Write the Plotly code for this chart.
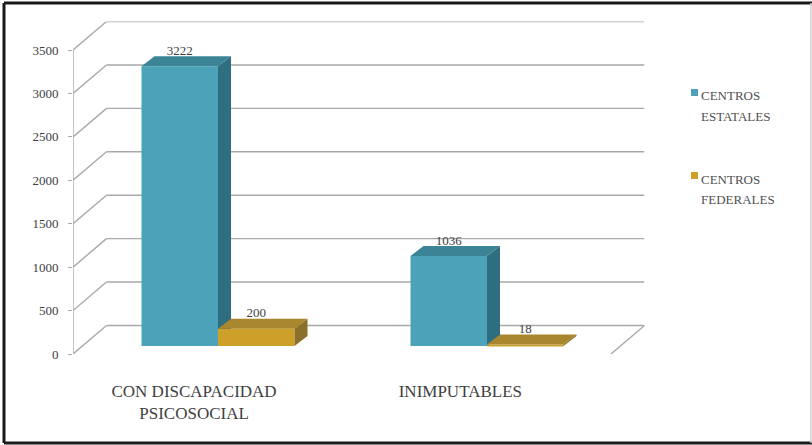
import plotly.graph_objects as go

# Data
categories = ["CON DISCAPACIDAD<br>PSICOSOCIAL", "INIMPUTABLES"]
centros_estatales = [3222, 1036]
centros_federales = [200, 18]
y_ticks = [0, 500, 1000, 1500, 2000, 2500, 3000, 3500]

W, H = 812, 445
X0, X1, Y0, Y1 = 73, 611, 354, 50          # plot front-plane box in px
UX = (X1 - X0) / 2.0                       # px per category
UY = (Y0 - Y1) / 3500.0                    # px per value unit
px_x = lambda p: p / UX
px_y = lambda p: p / UY

WALL_PX_X, WALL_PX_Y = 33.5, 28.5
WALL_X, WALL_Y = px_x(WALL_PX_X), px_y(WALL_PX_Y)    # floor depth
BAR_X, BAR_Y = px_x(13), px_y(10)          # bar depth
BASE = px_y(8)                             # bar front-face raise above the front floor edge
SHIFT = px_x(10.5)
BW = px_x(76.5)

TEAL = ("#4CA3B9", "#3A8496", "#2F6E7F")
GOLD = ("#CDA129", "#A8872E", "#8B7029")
GRID = "#A9A9A9"
TEXT = "#404040"
FONT = "Liberation Serif"


def faces(fig, xc, v, cols, ax):
    """Top and side faces of one 3D bar, derived from its value."""
    l, r = xc - BW / 2, xc + BW / 2
    t, b = BASE + v, BASE
    fig.add_trace(go.Scatter(x=[l, l + BAR_X, r + BAR_X, r, l], y=[t, t + BAR_Y, t + BAR_Y, t, t],
                             fill="toself", fillcolor=cols[1], mode="lines", line=dict(width=0),
                             hoverinfo="skip", showlegend=False, cliponaxis=False, **ax))
    fig.add_trace(go.Scatter(x=[r, r + BAR_X, r + BAR_X, r, r], y=[b, b + BAR_Y, t + BAR_Y, t, b],
                             fill="toself", fillcolor=cols[2], mode="lines", line=dict(width=0),
                             hoverinfo="skip", showlegend=False, cliponaxis=False, **ax))


fig = go.Figure()
ax1 = dict(xaxis="x", yaxis="y")
ax2 = dict(xaxis="x2", yaxis="y2")
idx = list(range(len(categories)))

xs_e = [i + SHIFT - BW / 2 for i in idx]
xs_f = [i + SHIFT + BW / 2 for i in idx]

fig.add_trace(go.Bar(x=xs_e, y=centros_estatales, base=BASE, width=BW, marker=dict(color=TEAL[0], line=dict(width=0)),
                     name="CENTROS ESTATALES", showlegend=False, cliponaxis=False, **ax1))
for x, v in zip(xs_e, centros_estatales):
    faces(fig, x, v, TEAL, ax1)

fig.add_trace(go.Bar(x=xs_f, y=centros_federales, base=BASE, width=BW, marker=dict(color=GOLD[0], line=dict(width=0)),
                     name="CENTROS FEDERALES", showlegend=False, cliponaxis=False, **ax2))
for x, v in zip(xs_f, centros_federales):
    faces(fig, x, v, GOLD, ax2)

# value labels
fig.add_trace(go.Scatter(x=xs_e + xs_f, y=[v + BASE + px_y(8) for v in centros_estatales + centros_federales],
                         text=[str(v) for v in centros_estatales + centros_federales],
                         mode="text", textposition="top center",
                         textfont=dict(family=FONT, size=13, color=TEXT),
                         hoverinfo="skip", showlegend=False, cliponaxis=False, **ax2))

# axis line and 3D gridlines, built from the ticks
shapes = []
line = dict(color=GRID, width=1.4)
xl, xr = idx[0] - 0.5, idx[-1] + 0.5
shapes.append(dict(type="line", xref="x", yref="y", x0=xl, x1=xl, y0=0, y1=y_ticks[-1], line=line, layer="below"))
for t in y_ticks:
    shapes.append(dict(type="line", xref="x", yref="y", x0=xl, y0=t, x1=xl + WALL_X, y1=t + WALL_Y, line=line, layer="below"))
    shapes.append(dict(type="line", xref="x", yref="y", x0=xl + WALL_X, y0=t + WALL_Y, x1=xr + WALL_X, y1=t + WALL_Y, line=line, layer="below"))
shapes.append(dict(type="line", xref="x", yref="y", x0=xr, y0=0, x1=xr + WALL_X, y1=WALL_Y, line=line, layer="below"))

# picture frame
def frame(x0, y0, x1, y1, color, w):
    return dict(type="line", xref="paper", yref="paper", x0=x0 / W, x1=x1 / W,
                y0=1 - y0 / H, y1=1 - y1 / H, line=dict(color=color, width=w))

shapes += [frame(4, 3, W, 3, "#1A1A1A", 3), frame(4, 3, 4, 443, "#1A1A1A", 3),
           frame(4, 443, W, 443, "#1A1A1A", 3), frame(811, 3, 811, 443, "#D0D0D0", 1.5)]

# legend keys and texts
annotations = []
legend = [(("CENTROS", "ESTATALES"), TEAL[0], 92), (("CENTROS", "FEDERALES"), GOLD[0], 175)]
for lines, col, yc in legend:
    shapes.append(dict(type="rect", xref="paper", yref="paper", x0=691 / W, x1=698 / W,
                       y0=1 - (yc + 4) / H, y1=1 - (yc - 3) / H, fillcolor=col, line=dict(width=0)))
    for k, txt in enumerate(lines):
        annotations.append(dict(xref="paper", yref="paper", x=699 / W, y=1 - (yc + 4 + 20 * k) / H, text=txt,
                                showarrow=False, xanchor="left", yanchor="middle", align="left",
                                font=dict(family=FONT, size=13, color="#505050")))

xrange_ = [xl, xr + WALL_X]
yrange_ = [0, y_ticks[-1] + WALL_Y]
xdom = [X0 / W, (X1 + WALL_PX_X) / W]
ydom = [1 - Y0 / H, 1 - (Y1 - WALL_PX_Y) / H]

fig.update_layout(
    width=W, height=H, margin=dict(l=0, r=0, t=0, b=0, pad=0, autoexpand=False),
    paper_bgcolor="white", plot_bgcolor="rgba(0,0,0,0)", showlegend=False,
    shapes=shapes, annotations=annotations, barmode="overlay",
    xaxis=dict(domain=xdom, range=xrange_, showgrid=False, zeroline=False, showline=False,
               tickmode="array", tickvals=[-0.05, 0.94], ticktext=categories, ticks="",
               tickfont=dict(family=FONT, size=17, color=TEXT), ticklabelstandoff=25, tickangle=0),
    yaxis=dict(domain=ydom, range=yrange_, showgrid=False, zeroline=False, showline=False,
               tickmode="array", tickvals=y_ticks, ticktext=[str(t) for t in y_ticks], ticks="outside",
               ticklen=4, tickcolor=GRID, tickwidth=1.4, ticklabelstandoff=7,
               tickfont=dict(family=FONT, size=13, color=TEXT)),
    xaxis2=dict(domain=xdom, range=xrange_, overlaying="x", visible=False),
    yaxis2=dict(domain=ydom, range=yrange_, overlaying="y", anchor="x2", visible=False),
)

fig.write_html("out.html", config={"displayModeBar": False},
               post_script="document.body.style.margin='0';document.body.style.overflow='hidden';")
